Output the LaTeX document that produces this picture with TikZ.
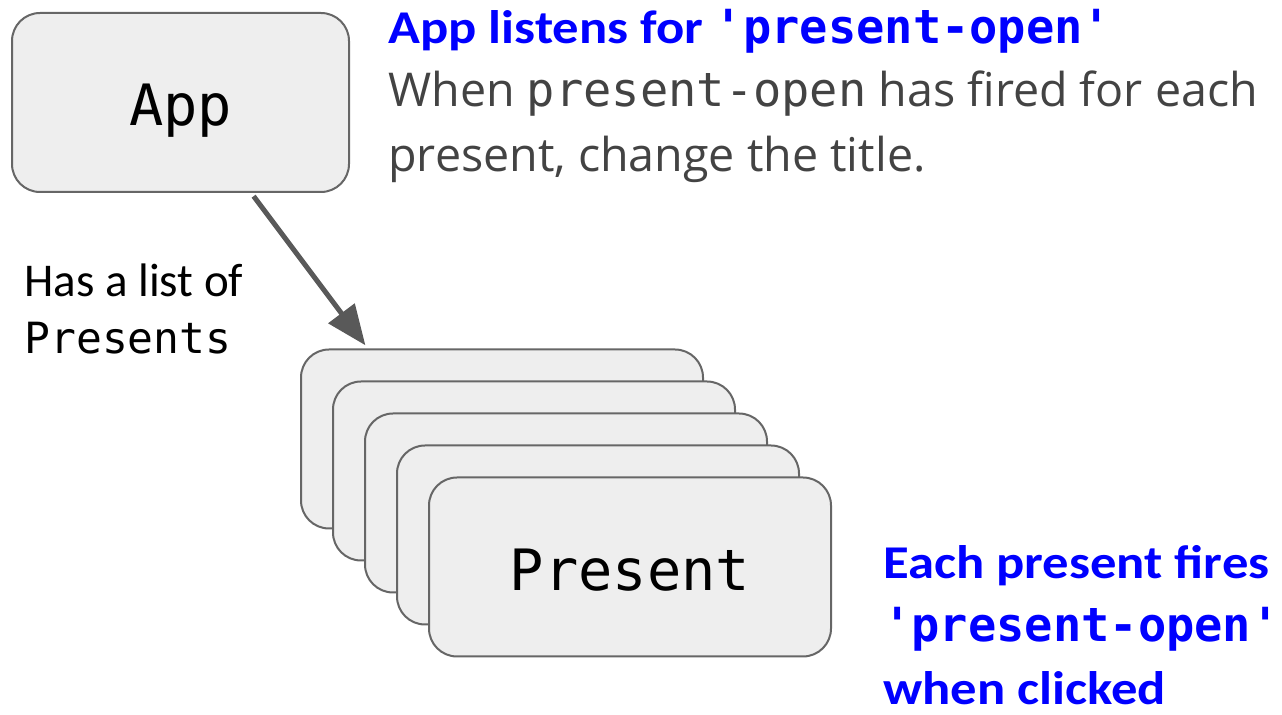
\documentclass[tikz,border=0pt]{standalone}
\usepackage{fontspec}
\setmainfont{Carlito}[BoldFeatures={FakeStretch=1.12}]
\setmonofont{DejaVu Sans Mono}
\newfontfamily\notefont{Open Sans}
\usetikzlibrary{arrows.meta}

\definecolor{boxfill}{HTML}{EEEEEE}
\definecolor{boxline}{HTML}{666666}
\definecolor{arrowgray}{HTML}{595959}
\definecolor{notegray}{HTML}{434343}
\definecolor{eventblue}{HTML}{0000FF}

\tikzset{
  component/.style={draw=boxline, fill=boxfill, line width=1pt,
    rounded corners=14pt, inner sep=0pt, minimum height=89.5pt,
    text height=23.5pt, text depth=0pt,
    font=\ttfamily\fontsize{28.5pt}{34pt}\selectfont},
  app box/.style={component, minimum width=168.5pt},
  present box/.style={component, minimum width=201pt},
  % multi-line notes sit on the baseline of their last line
  note/.style={anchor=base west, inner sep=0pt, align=left,
    font=\fontsize{23.5pt}{32.5pt}\selectfont},
  event/.style={note, text=eventblue, font=\bfseries\fontsize{23.5pt}{31.5pt}\selectfont},
  has list/.style={draw=arrowgray, line width=2.5pt,
    -{Triangle[length=20pt, width=16pt]}, shorten <=2pt, shorten >=2pt},
}

\begin{document}
\begin{tikzpicture}[x=0.5pt, y=-0.5pt]
  \useasboundingbox (0,0) rectangle (1282,715);

  % the app component
  \node[app box] (app) at (180.5,102.5) {App};

  % a stack of presents, back to front
  \foreach \i in {1,...,4}
    \node[present box] (present\i) at (470+32*\i, 407+32*\i) {};
  \node[present box] (present5) at (630,567) {Present};

  % app -> list of presents
  \draw[has list] (app.-52) -- (present1.146);
  \node[note] (list label) at (24,354)
    {Has a list of\\[-4pt]{\fontsize{21.5pt}{26pt}\selectfont\texttt{Presents}}};

  % notes about the event
  \node[event] (app title) at (388,44)
    {App listens for \texttt{\textquotesingle present-open\textquotesingle}};
  \node[note, text=notegray, font=\notefont\fontsize{23.3pt}{32.5pt}\selectfont] (app note) at (388,172)
    {When {\fontsize{23.5pt}{32.5pt}\selectfont\texttt{present-open}} has fired for each\\present, change the title.};
  \node[event] (present note) at (883,705)
    {Each present fires\\\texttt{\textquotesingle present-open\textquotesingle}\\when clicked};
\end{tikzpicture}
\end{document}
